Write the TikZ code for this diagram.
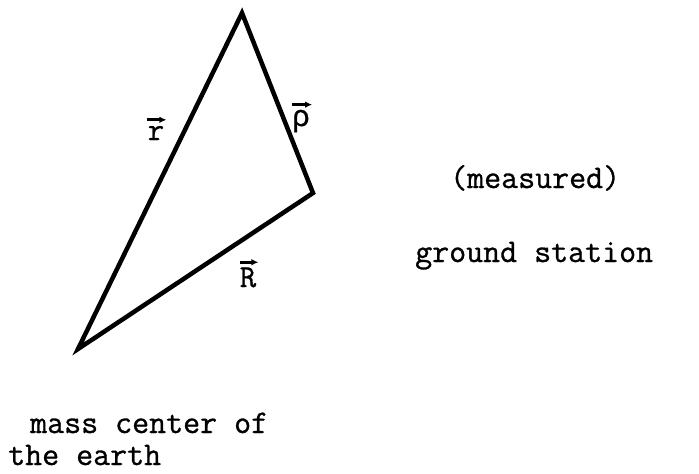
\documentclass[tikz,border=0pt]{standalone}
\usepackage{fontspec}
\newfontfamily\tw{Latin Modern Mono}[FakeBold=0.9]
\newfontfamily\twg{Liberation Mono}[FakeBold=0.9]
\usetikzlibrary{arrows.meta}
\begin{document}
\begin{tikzpicture}[x=1pt,y=-1pt,
  side/.style={line width=4.5pt, line join=miter, line cap=round},
  lbl/.style={font=\tw\fontsize{32}{34}\selectfont, inner sep=0pt},
  vecbar/.style={line width=2.8pt, -{Latex[length=7pt,width=6.5pt]}},
  txt/.style={font=\tw\fontsize{33}{35}\selectfont, inner sep=0pt, anchor=base west}]
\useasboundingbox (0,0) rectangle (699,474);
\coordinate (top) at (242,13);
\coordinate (gs) at (313,193);
\coordinate (mc) at (78,349);
\draw[side] (mc) -- (top) -- (gs) -- cycle;
% vector labels
\node[lbl, anchor=base] (lr) at (156,140) {r};
\draw[vecbar] ([xshift=-1pt,yshift=6pt]lr.north west) -- ([xshift=2pt,yshift=6pt]lr.north east);
\node[lbl, anchor=base, font=\twg\fontsize{30}{32}\selectfont] (lrho) at (301,126) {ρ};
\draw[vecbar] ([yshift=5pt]lrho.north west) -- ([xshift=2pt,yshift=5pt]lrho.north east);
\node[lbl, anchor=base] (lR) at (248,287) {R};
\draw[vecbar] ([yshift=5pt]lR.north west) -- ([xshift=2pt,yshift=5pt]lR.north east);
% texts
\node[txt] (meas) at (450,188) {(measured)};
\node[txt] (gst) at (415,262) {ground station};
\node[txt] (mass) at (30,433) {mass center of};
\node[txt] (earth) at (8,465) {the earth};
\end{tikzpicture}
\end{document}
